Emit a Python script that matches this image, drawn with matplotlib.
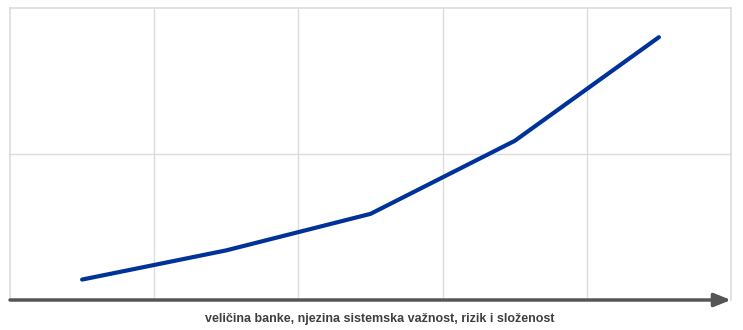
import matplotlib
matplotlib.use("Agg")
import matplotlib.pyplot as plt

# podaci ocitani sa slike
x_vals = [0.5, 1.5, 2.5, 3.5, 4.5]
y_vals = [0.14, 0.34, 0.59, 1.09, 1.80]
x_label = "veličina banke, njezina sistemska važnost, rizik i složenost"

W, H = 743, 330
fig = plt.figure(figsize=(W / 100, H / 100), dpi=100)
ax = fig.add_axes([10 / W, 30 / H, 721 / W, 292 / H])

ax.set_xlim(0, 5)
ax.set_ylim(0, 2)
ax.set_xticks([1, 2, 3, 4])
ax.set_yticks([1])
ax.grid(True, color="#dcdcdc", linewidth=1)
ax.tick_params(length=0, labelbottom=False, labelleft=False)
for s in ax.spines.values():
    s.set_color("#dcdcdc")
    s.set_linewidth(1.2)
ax.spines["bottom"].set_visible(False)

ax.plot(x_vals, y_vals, color="#003399", linewidth=3, solid_capstyle="round")

# os sa strelicom
ax.annotate("", xy=(5.0, 0), xytext=(0, 0),
            xycoords="data", annotation_clip=False,
            arrowprops=dict(arrowstyle="-|>,head_length=1.0,head_width=0.4",
                            color="#555555", linewidth=2.5,
                            shrinkA=0, shrinkB=0))

fig.text(380 / W, 1 - 319 / H, x_label, ha="center", va="center",
         fontsize=9, fontweight="bold", color="#404040",
         family="Liberation Sans")

fig.savefig("out.png", dpi=100)
